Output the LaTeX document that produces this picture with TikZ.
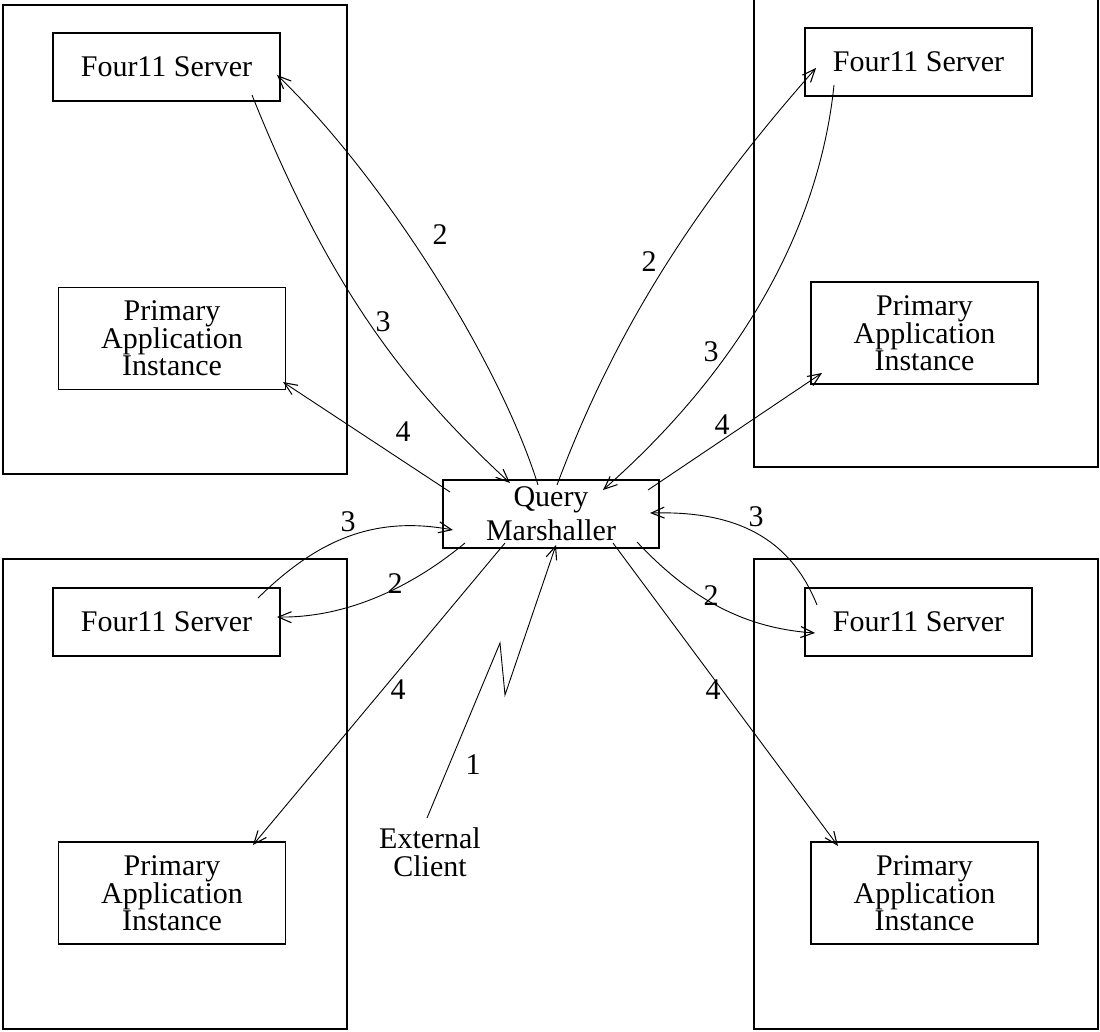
\documentclass[tikz,border=0pt]{standalone}
\usepackage{fontspec}
\setmainfont{Liberation Serif}
\usetikzlibrary{arrows.meta}
\begin{document}
\begin{tikzpicture}[x=1pt,y=-1pt,
  host/.style={draw, line width=1.1pt, inner sep=0pt, outer sep=0pt},
  box/.style={draw, line width=1.1pt, inner sep=0pt, outer sep=0pt, align=center,
              font=\fontsize{30}{25.5}\selectfont},
  srv/.style={box, minimum width=227pt, minimum height=68pt},
  app/.style={box, minimum width=227pt, minimum height=102pt},
  link/.style={line width=0.9pt},
  arr/.style={link, -{Straight Barb[length=13pt,width=11pt,line width=1.1pt]}},
  lbl/.style={inner sep=0pt, font=\fontsize{30}{30}\selectfont}]
\useasboundingbox (0,0) rectangle (1100,1032);

% hosts
\node[host, minimum width=344pt, minimum height=469pt] (tlo) at (175,239.5) {};
\node[host, minimum width=344pt, minimum height=477pt] (tro) at (926,228.5) {};
\node[host, minimum width=344pt, minimum height=470pt] (blo) at (175,794) {};
\node[host, minimum width=344pt, minimum height=470pt] (bro) at (926,794) {};

% servers and application instances
\node[srv] (tls) at (166.5,67) {Four11 Server};
\node[app] (tlp) at (172,338.5) {Primary\\Application\\Instance};
\node[srv] (trs) at (918.5,62) {Four11 Server};
\node[app] (trp) at (924.5,333) {Primary\\Application\\Instance};
\node[srv] (bls) at (166.5,622) {Four11 Server};
\node[app] (blp) at (172,893) {Primary\\Application\\Instance};
\node[srv] (brs) at (918.5,622) {Four11 Server};
\node[app] (brp) at (924.5,893) {Primary\\Application\\Instance};

% marshaller and client
\node[box, minimum width=216pt, minimum height=68pt,
      font=\fontsize{30}{34}\selectfont] (qm) at (551,514) {Query\\Marshaller};
\node[inner sep=0pt, align=center, font=\fontsize{30}{28}\selectfont] (ec) at (430,852) {External\\Client};

% top left host
\draw[arr] ([shift={(-13,-29)}]qm.center) .. controls (499,360) and (382,176) .. ([shift={(110.5,8)}]tls.center);
\draw[arr] ([shift={(85.5,28)}]tls.center) .. controls (330,290) and (407,388) .. ([shift={(-41,-31)}]qm.center);
\draw[arr] ([shift={(-101,-22)}]qm.center) -- ([shift={(111,43.5)}]tlp.center);

% top right host
\draw[arr] ([shift={(6,-29)}]qm.center) .. controls (615,330) and (695,205) .. ([shift={(-102.5,6)}]trs.center);
\draw[arr] ([shift={(-84.5,23)}]trs.center) .. controls (818,240) and (730,378) .. ([shift={(52,-24)}]qm.center);
\draw[arr] ([shift={(97,-24)}]qm.center) -- ([shift={(-102.5,40)}]trp.center);

% bottom left host
\draw[arr] ([shift={(91.5,-24)}]bls.center) .. controls (316,541) and (373,515) .. ([shift={(-98,16)}]qm.center);
\draw[arr] ([shift={(-86,29)}]qm.center) .. controls (412,587) and (347,618) .. ([shift={(110.5,-5)}]bls.center);
\draw[arr] ([shift={(-46,29)}]qm.center) -- ([shift={(81,-48)}]blp.center);

% bottom right host
\draw[arr] ([shift={(-101.5,-17)}]brs.center) .. controls (787,530) and (725,511) .. ([shift={(99,-1)}]qm.center);
\draw[arr] ([shift={(86,28)}]qm.center) .. controls (687,595) and (740,628) .. ([shift={(-103.5,11)}]brs.center);
\draw[arr] ([shift={(62,29)}]qm.center) -- ([shift={(-86.5,-47)}]brp.center);

% external request
\draw[arr] ([shift={(-3,-34)}]ec.center) -- (500,643) -- (505,695) -- ([shift={(5,31)}]qm.center);

% step numbers
\node[lbl] (n2a) at (440,235) {2};
\node[lbl] (n3a) at (383,322) {3};
\node[lbl] (n4a) at (403,432) {4};
\node[lbl] (n2b) at (649,262) {2};
\node[lbl] (n3b) at (711,352) {3};
\node[lbl] (n4b) at (722,425) {4};
\node[lbl] (n3c) at (348,522) {3};
\node[lbl] (n2c) at (395,584) {2};
\node[lbl] (n4c) at (398,690) {4};
\node[lbl] (n1)  at (473,765) {1};
\node[lbl] (n3d) at (756,517) {3};
\node[lbl] (n2d) at (711,596) {2};
\node[lbl] (n4d) at (713,690) {4};
\end{tikzpicture}
\end{document}
